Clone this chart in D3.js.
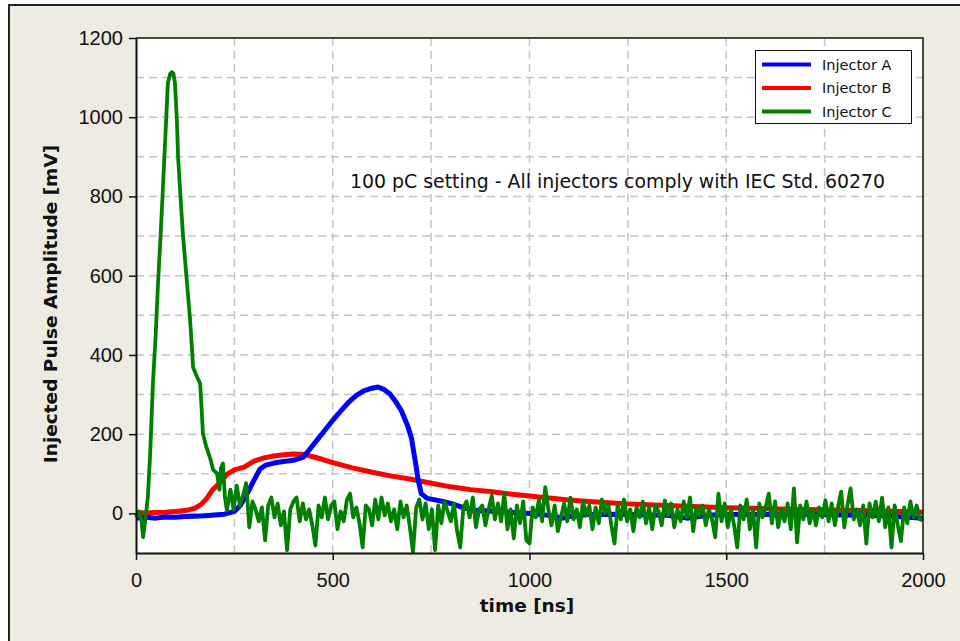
<!DOCTYPE html>
<html lang="en">
<head>
  <meta charset="UTF-8">
  <title>Injected Pulse Amplitude</title>
  <script src="https://d3js.org/d3.v7.min.js"></script>
  <style>
    body { margin: 0; background: #fff; }
    .tick text { font-family: "Liberation Sans", Arial, sans-serif; font-size: 20px; fill: #111; }
    .axis-title { font-family: "DejaVu Sans", Verdana, sans-serif; font-size: 18.5px; font-weight: bold; fill: #111; }
    .note { font-family: "DejaVu Sans", Verdana, sans-serif; font-size: 18.9px; fill: #111; }
    .legend text { font-family: "DejaVu Sans", Verdana, sans-serif; font-size: 14.5px; fill: #111; }
    .grid line { stroke: #c4c4c4; stroke-width: 1.5; stroke-dasharray: 8,5; }
  </style>
</head>
<body>
  <svg width="960" height="641"></svg>

  <script>
    // Injector A (blue) : [time ns, mV]
    const injectorA = [
      [0, -12], [25, -10], [50, -12], [75, -9], [100, -10], [125, -8], [150, -7], [175, -6],
      [200, -4], [225, -2], [250, 5], [265, 20], [280, 45], [298, 80], [315, 112], [330, 122],
      [350, 127], [375, 131], [400, 134], [425, 142], [440, 160], [460, 185], [480, 210],
      [500, 235], [520, 258], [540, 280], [560, 298], [580, 310], [600, 316], [615, 319],
      [630, 313], [645, 302], [660, 282], [675, 258], [690, 222], [700, 190], [710, 130],
      [717, 85], [725, 50], [740, 38], [760, 34], [780, 30], [800, 25], [830, 15], [860, 8],
      [900, 6], [950, 3], [1000, 0], [1050, -5], [1085, -12], [1100, -8], [1150, -3],
      [1200, -2], [1250, -3], [1300, -4], [1350, -5], [1400, -12], [1420, -10], [1450, -5],
      [1500, -3], [1600, -3], [1700, -2], [1800, -4], [1900, -6], [2000, -12]
    ];

    // Injector B (red)
    const injectorB = [
      [0, 2], [25, 1], [50, 2], [75, 3], [100, 5], [125, 7], [150, 13], [165, 22], [180, 38],
      [195, 60], [210, 74], [230, 98], [250, 110], [275, 117], [300, 132], [325, 140],
      [350, 145], [375, 148], [400, 150], [425, 149], [450, 143], [475, 136], [500, 128],
      [550, 115], [600, 104], [650, 94], [700, 86], [750, 76], [800, 67], [850, 60], [900, 55],
      [950, 49], [1000, 44], [1050, 39], [1100, 34], [1150, 30], [1200, 27], [1250, 24],
      [1300, 22], [1350, 20], [1400, 18], [1450, 16], [1500, 14], [1600, 12], [1700, 10],
      [1800, 8], [1900, 6], [2000, 3]
    ];

    // Injector C (green) : the pulse
    const injectorCPulse = [
      [0, -10], [8, 5], [14, -20], [18, -60], [24, -15], [30, 40], [36, 150], [43, 328],
      [50, 450], [56, 581], [63, 710], [69, 834], [75, 960], [81, 1086], [87, 1110], [91, 1114],
      [95, 1110], [99, 1086], [104, 990], [107, 899], [113, 800], [119, 707], [128, 600],
      [137, 495], [142, 420], [145, 369], [155, 345], [163, 328], [167, 260], [170, 202],
      [178, 170], [188, 141], [196, 110], [206, 101], [212, 60], [216, 115], [221, 126],
      [226, 40], [231, 8]
    ];
    // Injector C : baseline after the pulse, sampled every 8 ns from 240 ns
    const noiseStart = 240;
    const noiseStep = 8;
    const injectorCNoise = [
      60, 10, 70, 20, 45, 76, -35, 30, 10, -20,
      15, -68, 20, 40, -10, 25, -30, 5, -93, 10,
      30, 40, -20, 25, -15, 10, -30, -81, 20, -10,
      40, -15, 20, 30, -40, 5, -20, 35, 50, -10,
      15, -25, -86, 20, 10, -30, 35, -15, 40, -5,
      25, -20, 10, -40, 30, -10, 20, -35, -98, 15,
      35, -15, 25, -40, 10, -93, 20, -25, 30, 5,
      -20, 25, -45, -86, 15, 30, -10, 40, -35, 10,
      20, -30, 10, 45, -15, 25, -20, 50, -40, 10,
      -63, 20, -25, 30, -68, -76, 15, -10, 35, -20,
      66, 10, -30, 20, -45, -10, 25, -20, 40, -15,
      10, -35, 30, -5, 20, -40, 15, -25, 35, 0,
      25, -30, -76, 20, -15, 35, -20, 10, -45, 15,
      -10, 30, -25, 15, -40, 20, 5, -30, 33, -5,
      25, -35, 10, -20, 30, -10, 40, -45, 15, -5,
      20, -30, 10, -15, -60, 50, -20, 25, -35, 10,
      -30, -86, 20, -15, 35, -40, 10, -86, 25, -10,
      15, 50, -25, 30, -35, 10, -20, 25, -40, 63,
      -73, 20, -15, 30, -25, 10, -30, 15, -10, 33,
      -20, 25, -30, 15, 55, -35, 20, 63, -15, 10,
      -30, 20, -76, 25, -10, 30, -20, 40, -35, 15,
      -86, 20, -30, -70, 15, -25, 30, -10, 20, -15, -18
    ];

    const seriesNames = ["Injector A", "Injector B", "Injector C"];
    const seriesColors = ["#0000ff", "#ff0000", "#008000"];
    const xTicks = [0, 500, 1000, 1500, 2000];
    const yTicks = [0, 200, 400, 600, 800, 1000, 1200];
    const xGrid = [250, 500, 750, 1000, 1250, 1500, 1750];
    const yGrid = [0, 100, 200, 300, 400, 500, 600, 700, 800, 900, 1000, 1100];
    const noteText = "100 pC setting - All injectors comply with IEC Std. 60270";

    const injectorC = injectorCPulse.concat(
      injectorCNoise.map((v, i) => [noiseStart + i * noiseStep, v])
    );

    const svg = d3.select("svg");
    const plot = { left: 136, right: 923, top: 38, bottom: 553 };

    // beige panel with dark frame
    svg.append("rect")
      .attr("x", 9).attr("y", 5).attr("width", 980).attr("height", 660)
      .attr("fill", "#eeebe2").attr("stroke", "#222").attr("stroke-width", 2);

    svg.append("rect")
      .attr("x", plot.left).attr("y", plot.top)
      .attr("width", plot.right - plot.left).attr("height", plot.bottom - plot.top)
      .attr("fill", "#fff");

    const x = d3.scaleLinear().domain([0, 2000]).range([plot.left, plot.right]);
    const y = d3.scaleLinear().domain([-100, 1200]).range([plot.bottom, plot.top]);

    // grid
    const grid = svg.append("g").attr("class", "grid");
    grid.selectAll(".gx").data(xGrid).join("line")
      .attr("x1", d => x(d)).attr("x2", d => x(d))
      .attr("y1", plot.top).attr("y2", plot.bottom);
    grid.selectAll(".gy").data(yGrid).join("line")
      .attr("x1", plot.left).attr("x2", plot.right)
      .attr("y1", d => y(d)).attr("y2", d => y(d));

    // curves
    const line = d3.line().x(d => x(d[0])).y(d => y(d[1]));
    const curves = [
      { data: injectorB, color: seriesColors[1], w: 5 },
      { data: injectorA, color: seriesColors[0], w: 5 },
      { data: injectorC, color: seriesColors[2], w: 3.8 }
    ];
    svg.append("g").selectAll("path").data(curves).join("path")
      .attr("d", d => line(d.data))
      .attr("fill", "none")
      .attr("stroke", d => d.color)
      .attr("stroke-width", d => d.w)
      .attr("stroke-linejoin", "round");

    // top and right border of plot area
    svg.append("path")
      .attr("d", `M${plot.left},${plot.top}H${plot.right}V${plot.bottom}`)
      .attr("fill", "none").attr("stroke", "#111").attr("stroke-width", 1.5);

    // axes
    const fmt = d3.format("d");
    const xAxis = svg.append("g")
      .attr("transform", `translate(0,${plot.bottom})`)
      .call(d3.axisBottom(x).tickValues(xTicks).tickFormat(fmt)
        .tickSize(7).tickSizeOuter(0).tickPadding(8));
    const yAxis = svg.append("g")
      .attr("transform", `translate(${plot.left},0)`)
      .call(d3.axisLeft(y).tickValues(yTicks).tickFormat(fmt)
        .tickSize(7).tickSizeOuter(0).tickPadding(6));
    [xAxis, yAxis].forEach(a => {
      a.select(".domain").attr("stroke", "#111").attr("stroke-width", 2);
      a.selectAll(".tick line").attr("stroke", "#111").attr("stroke-width", 1.5);
    });
    xAxis.selectAll(".tick text").attr("dy", "0.95em");

    // axis titles
    svg.append("text").attr("class", "axis-title")
      .attr("x", 527).attr("y", 612).attr("text-anchor", "middle")
      .text("time [ns]");
    svg.append("text").attr("class", "axis-title")
      .attr("transform", "translate(57,304) rotate(-90)")
      .attr("text-anchor", "middle")
      .text("Injected Pulse Amplitude [mV]");

    // annotation
    svg.append("text").attr("class", "note")
      .attr("x", 350).attr("y", 188)
      .text(noteText);

    // legend
    const legend = svg.append("g").attr("class", "legend");
    legend.append("rect")
      .attr("x", 755.5).attr("y", 50.5).attr("width", 156).attr("height", 73)
      .attr("fill", "#fff").attr("stroke", "#111").attr("stroke-width", 1);
    const rows = legend.selectAll(".row").data(seriesNames).join("g")
      .attr("transform", (d, i) => `translate(0,${64.5 + i * 23.5})`);
    rows.append("line")
      .attr("x1", 762).attr("x2", 811)
      .attr("stroke", (d, i) => seriesColors[i]).attr("stroke-width", 4);
    rows.append("text")
      .attr("x", 822).attr("dy", "0.36em")
      .text(d => d);
  </script>
</body>
</html>
